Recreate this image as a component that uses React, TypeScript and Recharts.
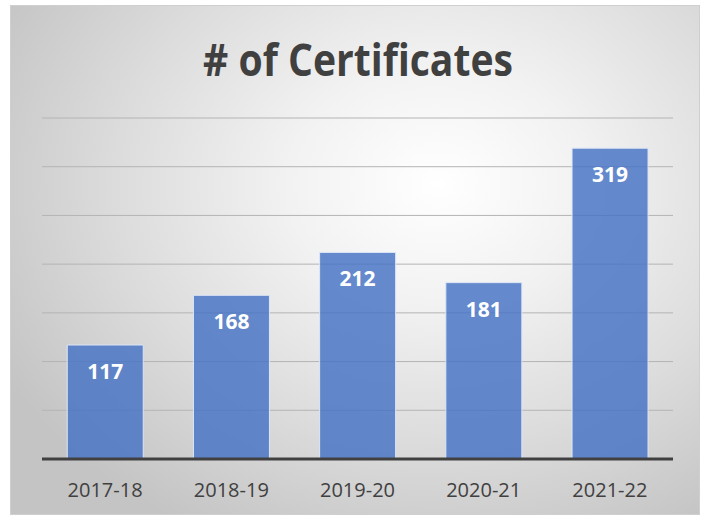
import React from "react";
import { BarChart, Bar, XAxis, YAxis, CartesianGrid, LabelList } from "recharts";

const categories = ["2017-18", "2018-19", "2019-20", "2020-21", "2021-22"];
const certificates = [117, 168, 212, 181, 319];
const yTicks = [0, 50, 100, 150, 200, 250, 300, 350];

const data = categories.map((year, i) => ({ year, value: certificates[i] }));

const App: React.FC = () => {
  return (
    <div
      style={{
        position: "absolute",
        left: 10,
        top: 5,
        width: 690,
        height: 510,
        border: "1px solid #cfcfcf",
        boxSizing: "border-box",
        background:
          "radial-gradient(ellipse 72% 78% at 62% 35%, #ffffff 0%, #f2f2f2 30%, #dcdcdc 65%, #c4c4c4 100%)",
        fontFamily: "'Open Sans', sans-serif",
      }}
    >
      <svg
        width={690}
        height={90}
        style={{ position: "absolute", left: 0, top: 0 }}
      >
        <text
          x={347}
          y={70}
          textAnchor="middle"
          fontSize={44}
          fontWeight="bold"
          fill="#404040"
          textLength={310}
          lengthAdjust="spacingAndGlyphs"
          fontFamily="'Open Sans', sans-serif"
        >
          # of Certificates
        </text>
      </svg>
      <BarChart
        width={690}
        height={510}
        data={data}
        margin={{ top: 112, right: 28, bottom: 17, left: 31 }}
        barCategoryGap="20%"
      >
        <CartesianGrid horizontal vertical={false} stroke="#b4b4b4" />
        <YAxis hide domain={[0, 350]} ticks={yTicks} />
        <XAxis
          dataKey="year"
          height={40}
          tickLine={false}
          axisLine={{ stroke: "#404040", strokeWidth: 3 }}
          tick={{ fill: "#404040", fontSize: 20 }}
          tickMargin={18}
        />
        <Bar
          dataKey="value"
          fill="#4472C4"
          fillOpacity={0.82}
          stroke="#dde6f5"
          strokeWidth={1}
          isAnimationActive={false}
        >
          <LabelList
            dataKey="value"
            position="insideTop"
            offset={19}
            fill="#ffffff"
            fontSize={21}
            fontWeight="bold"
          />
        </Bar>
      </BarChart>
    </div>
  );
};

export default App;
